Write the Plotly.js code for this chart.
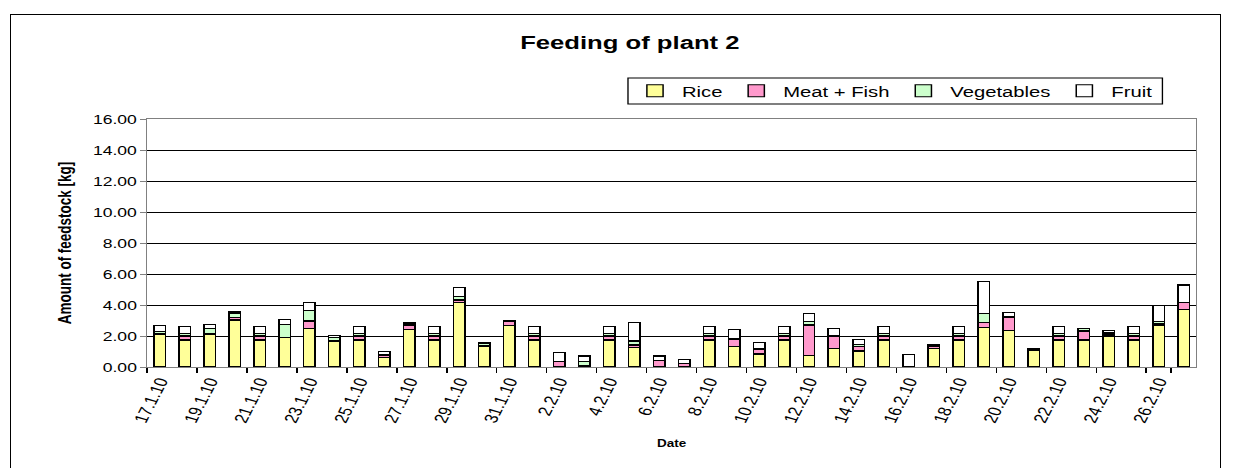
<!DOCTYPE html>
<html>
<head>
<meta charset="utf-8">
<script src="https://cdn.plot.ly/plotly-3.0.1.min.js"></script>
<style>
  html, body { margin: 0; padding: 0; background: #fff; overflow: hidden; }
  #frame { position: absolute; left: 10px; top: 14px; width: 1211px; height: 470px; border: 1.5px solid #000; box-sizing: border-box; }
  #chart { position: absolute; left: 0; top: 0; width: 913px; height: 468px; transform: scaleX(1.35); transform-origin: 0 0; }
</style>
</head>
<body>
<div id="frame"></div>
<div id="chart"></div>
<script>
const dates = ["17.1.10","18.1.10","19.1.10","20.1.10","21.1.10","22.1.10","23.1.10","24.1.10","25.1.10","26.1.10",
  "27.1.10","28.1.10","29.1.10","30.1.10","31.1.10","1.2.10","2.2.10","3.2.10","4.2.10","5.2.10",
  "6.2.10","7.2.10","8.2.10","9.2.10","10.2.10","11.2.10","12.2.10","13.2.10","14.2.10","15.2.10",
  "16.2.10","17.2.10","18.2.10","19.2.10","20.2.10","21.2.10","22.2.10","23.2.10","24.2.10","25.2.10",
  "26.2.10","27.2.10"];

const rice  = [2.13,1.74,2.13,3.03,1.74,1.92,2.50,1.63,1.74,0.60, 2.43,1.74,4.15,1.31,2.65,1.74,0.00,0.05,1.74,1.25,
  0.00,0.02,1.74,1.31,0.84,1.74,0.77,1.18,1.03,1.74, 0.02,1.22,1.74,2.56,2.34,1.06,1.74,1.74,2.00,1.74, 2.71,3.72];
const meat  = [0.05,0.26,0.03,0.17,0.26,0.00,0.47,0.10,0.26,0.17, 0.28,0.26,0.17,0.05,0.32,0.26,0.35,0.03,0.26,0.17,
  0.40,0.20,0.26,0.50,0.30,0.26,1.94,0.82,0.28,0.26, 0.02,0.10,0.26,0.32,0.86,0.05,0.26,0.58,0.13,0.26, 0.08,0.43];
const veg   = [0.10,0.17,0.35,0.26,0.17,0.80,0.66,0.20,0.17,0.05, 0.08,0.17,0.22,0.18,0.00,0.17,0.03,0.25,0.17,0.26,
  0.03,0.02,0.17,0.05,0.05,0.17,0.20,0.05,0.15,0.17, 0.02,0.05,0.17,0.58,0.03,0.02,0.17,0.15,0.10,0.17, 0.12,0.03];
const fruit = [0.40,0.43,0.25,0.09,0.43,0.36,0.54,0.10,0.43,0.20, 0.07,0.43,0.58,0.05,0.02,0.43,0.57,0.38,0.43,1.18,
  0.28,0.25,0.43,0.57,0.40,0.43,0.55,0.45,0.32,0.43, 0.72,0.05,0.43,2.04,0.30,0.03,0.43,0.03,0.10,0.43, 1.03,1.11];

const seriesNames = ["Rice", "Meat + Fish", "Vegetables", "Fruit"];
const seriesColors = ["#FFFF99", "#FF99CC", "#CCFFCC", "#FFFFFF"];
const seriesValues = [rice, meat, veg, fruit];

const traces = seriesValues.map((vals, i) => ({
  type: "bar",
  name: seriesNames[i],
  x: dates,
  y: vals,
  marker: { color: seriesColors[i], line: { color: "#000", width: 1.1 } }
}));

const layout = {
  width: 913, height: 468,
  paper_bgcolor: "rgba(0,0,0,0)",
  plot_bgcolor: "#fff",
  barmode: "stack",
  bargap: 0.54,
  margin: { l: 108.7, r: 26.6, t: 119, b: 101 },
  font: { family: "Liberation Sans, Arial, sans-serif", color: "#000" },
  title: {
    text: "<b>Feeding of plant 2</b>",
    font: { size: 19 },
    xref: "container", x: 0.511, xanchor: "center",
    yref: "container", y: 0.91, yanchor: "middle"
  },
  showlegend: true,
  legend: {
    orientation: "h",
    x: 0.4584, xanchor: "left",
    y: 1.113, yanchor: "middle",
    borderwidth: 0,
    bgcolor: "rgba(0,0,0,0)",
    font: { size: 15 },
    traceorder: "normal",
    itemwidth: 30
  },
  shapes: [{
    type: "rect", xref: "paper", yref: "paper",
    x0: 0.4584, x1: 0.9679, y0: 1.0605, y1: 1.1653,
    line: { color: "#000", width: 1 }, fillcolor: "rgba(0,0,0,0)", layer: "below"
  }],
  xaxis: {
    type: "category",
    tickmode: "array",
    tickvals: dates.filter((d, i) => i % 2 === 0),
    tickson: "boundaries",
    ticks: "outside", ticklen: 5, tickcolor: "#000",
    tickangle: -69,
    tickfont: { size: 14 },
    showgrid: false,
    showline: true, linecolor: "#808080", linewidth: 1, mirror: true,
    title: { text: "<b>Date</b>", font: { size: 10 }, standoff: 16 },
    automargin: false
  },
  yaxis: {
    range: [0, 16],
    dtick: 2,
    tickformat: ".2f",
    ticks: "outside", ticklen: 4, tickcolor: "#808080",
    tickfont: { size: 13 },
    showgrid: true, gridcolor: "#000", gridwidth: 1,
    zeroline: false,
    showline: true, linecolor: "#808080", linewidth: 1, mirror: true,
    title: { text: "<b>Amount of feedstock [kg]</b>", font: { size: 13.5 }, standoff: 12 },
    automargin: false
  }
};

Plotly.newPlot("chart", traces, layout, { displayModeBar: false, staticPlot: true });
</script>
</body>
</html>
